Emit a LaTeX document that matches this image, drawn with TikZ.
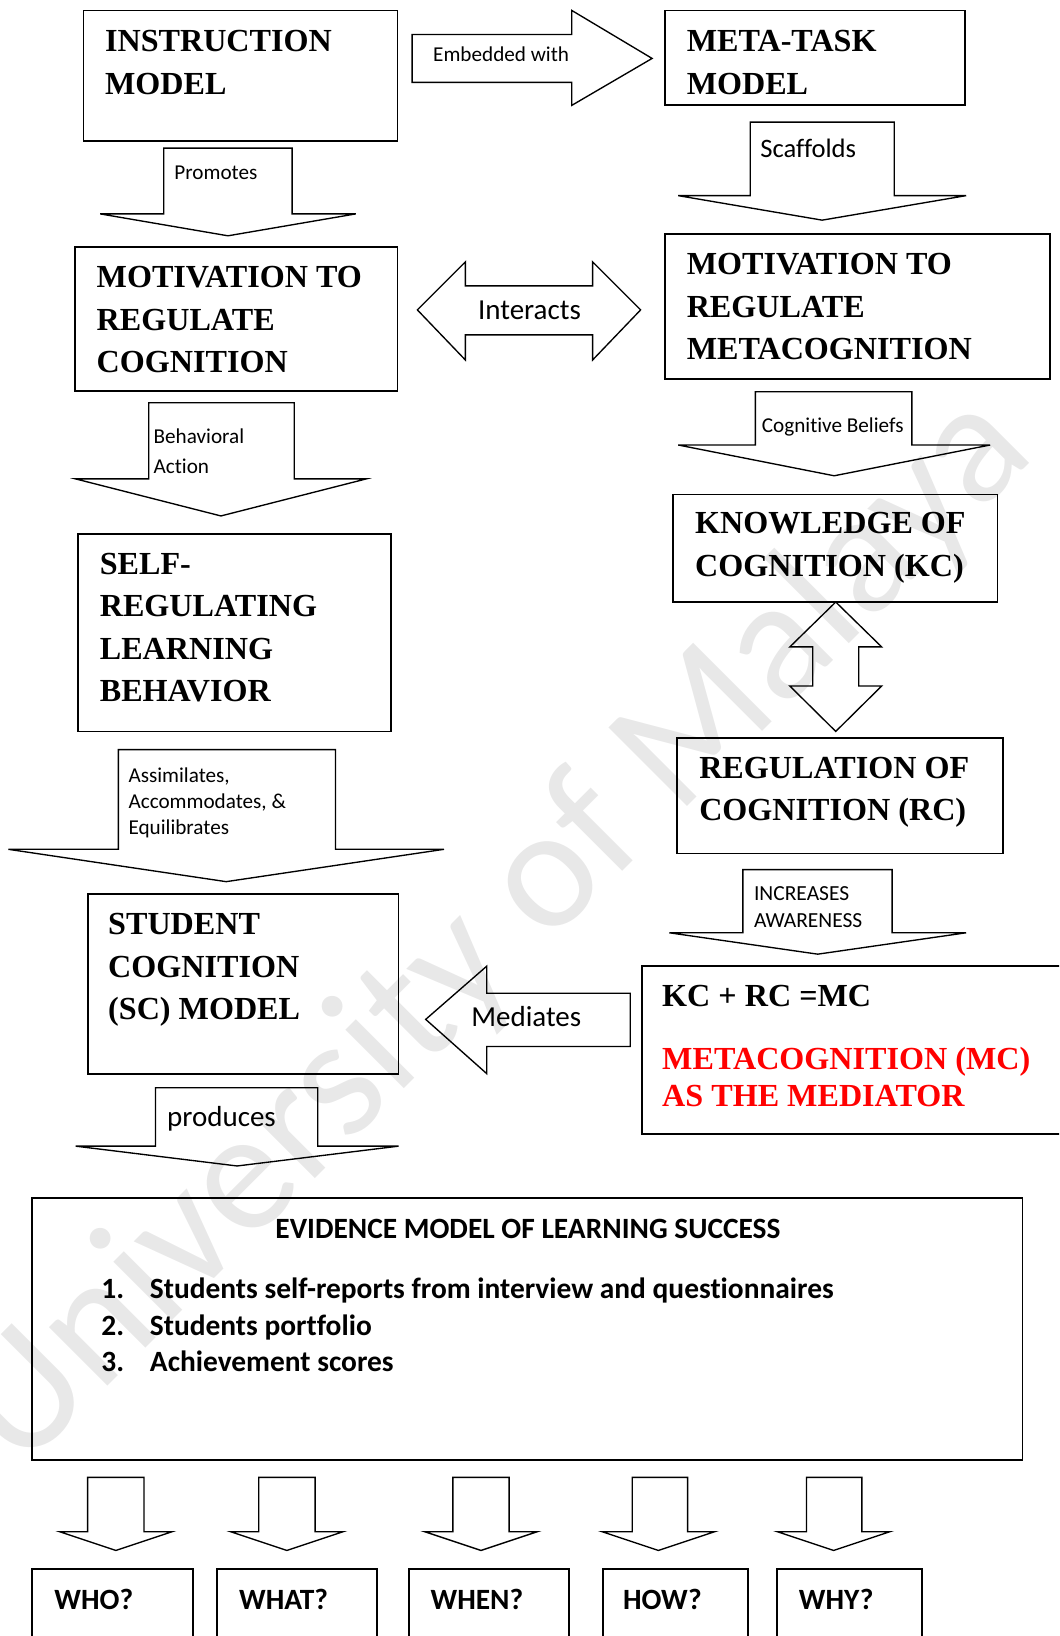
\documentclass[tikz,border=0pt]{standalone}
\usepackage{fontspec}
\setmainfont{Liberation Serif}
\newfontfamily\labelfont[Ligatures=NoCommon]{Carlito}
\definecolor{mcred}{RGB}{255,0,0}
\definecolor{wmgray}{RGB}{232,232,232}
% left-aligned stack of lines, baseline at the first line
\newcommand\stack[1]{\begin{tabular}[t]{@{}l@{}}#1\end{tabular}}
% framed panel: name, left, top, width, height
\newcommand\panel[5]{\node[box, minimum width=#4pt, minimum height=#5pt] (#1) at (#2,#3) {};}
% downward block arrow: shaft left, shaft right, top, head line, head left, head right, tip
\newcommand\downblock[7]{\draw[blockarrow] (#1,#3) -- (#2,#3) -- (#2,#4) -- (#6,#4) -- ({(#5+#6)/2},#7) -- (#5,#4) -- (#1,#4) -- cycle;}
\begin{document}
\begin{tikzpicture}[x=1pt,y=-1pt,
  box/.style={draw, line width=1.7pt, anchor=north west, inner sep=0pt, outer sep=0pt},
  blockarrow/.style={draw, line width=1.3pt, line join=miter},
  heading/.style={anchor=base west, inner sep=0pt, font=\bfseries\fontsize{30.8}{40.7}\selectfont},
  redheading/.style={heading, text=mcred, font=\bfseries\fontsize{30.8}{35.5}\selectfont},
  tag/.style={anchor=base west, inner sep=0pt, font=\labelfont\fontsize{20.3}{25}\selectfont},
  bigtag/.style={anchor=base west, inner sep=0pt, font=\labelfont\fontsize{27.8}{30}\selectfont},
  listtxt/.style={anchor=base west, inner sep=0pt, font=\labelfont\bfseries\fontsize{28.2}{35}\selectfont},
  watermark/.style={inner sep=0pt, text=wmgray, font=\labelfont\fontsize{166}{166}\selectfont}
]
\useasboundingbox (0,0) rectangle (1015,1568);
\clip (0,0) rectangle (1015,1568);

% background watermark
\node[watermark, rotate=45] (wm) at (476,893) {University of Malaya};

% panels
\panel{instr}{80}{10}{301}{125}
\panel{metatask}{637}{10}{288}{91}
\panel{motcog}{72}{237}{309}{138}
\panel{motmeta}{637}{224}{369}{139}
\panel{kc}{645}{474}{311}{103}
\panel{srl}{75}{512}{300}{189}
\panel{rc}{649}{707}{312}{111}
\panel{sc}{84}{857}{298}{172}
\panel{mc}{615}{926}{430}{161}
\panel{evidence}{31}{1148}{949}{251}
\panel{who}{31}{1504}{154}{100}
\panel{what}{208}{1504}{153}{100}
\panel{when}{392}{1504}{153}{100}
\panel{how}{578}{1504}{139}{100}
\panel{why}{745}{1504}{139}{100}

% panel texts
\node[heading] (instr-t) at (100.5,49.5) {\stack{INSTRUCTION\\MODEL}};
\node[heading] (metatask-t) at (658,49.5) {\stack{META-TASK\\MODEL}};
\node[heading] (motcog-t) at (92.5,276) {\stack{MOTIVATION TO\\REGULATE\\COGNITION}};
\node[heading] (motmeta-t) at (658,263.5) {\stack{MOTIVATION TO\\REGULATE\\METACOGNITION}};
\node[heading] (kc-t) at (666,511.5) {\stack{KNOWLEDGE OF\\COGNITION (KC)}};
\node[heading] (srl-t) at (95.5,550.5) {\stack{SELF-\\REGULATING\\LEARNING\\BEHAVIOR}};
\node[heading] (rc-t) at (670,746) {\stack{REGULATION OF\\COGNITION (RC)}};
\node[heading] (sc-t) at (103.5,896) {\stack{STUDENT\\COGNITION\\(SC) MODEL}};
\node[heading] (mc-t) at (634.5,965) {KC + RC =MC};
\node[redheading] (mc-red) at (634.5,1025) {\stack{METACOGNITION (MC)\\AS THE MEDIATOR}};

% block arrows between panels
\draw[blockarrow] (395,33) -- (548,33) -- (548,10) -- (625,56) -- (548,101) -- (548,79) -- (395,79) -- cycle;
\node[tag] (embedded) at (415,58.5) {Embedded with};

\downblock{157}{280}{142}{205}{96}{341}{226}
\node[tag] (promotes) at (167,172.5) {Promotes};

\downblock{719}{857}{117}{187.5}{650}{926}{211}
\node[tag, font=\labelfont\fontsize{25.5}{26}\selectfont] (scaffolds) at (728.5,150.5) {Scaffolds};

\draw[blockarrow] (400,297) -- (446,251) -- (446,274) -- (568,274) -- (568,251) -- (614,297) -- (568,345) -- (568,321) -- (446,321) -- (446,345) -- cycle;
\node[bigtag] (interacts) at (458,306.5) {Interacts};

\downblock{142.5}{282}{386}{459}{72.5}{351}{494.5}
\node[tag] (behavioral) at (147,425) {\stack{Behavioral\\[3.7pt]Action}};

\downblock{724}{874}{375.5}{426.5}{650}{949}{456}
\node[tag] (beliefs) at (730,414.5) {Cognitive Beliefs};

\draw[blockarrow] (801,577) -- (845,620) -- (823,620) -- (823,657.5) -- (845,657.5) -- (801,701) -- (757,657.5) -- (779,657.5) -- (779,620) -- (757,620) -- cycle;

\downblock{113.5}{321.5}{718.5}{814}{8}{425.5}{845}
\node[tag] (assimilates) at (123,749.5) {\stack{Assimilates,\\Accommodates, \&\\Equilibrates}};

\downblock{712}{855}{833.5}{894}{641.5}{926}{914.5}
\node[tag, font=\labelfont\fontsize{20.6}{25}\selectfont] (awareness) at (722.5,863.5) {\stack{INCREASES\\AWARENESS}};

\draw[blockarrow] (408,977) -- (466.5,926) -- (466.5,952) -- (604,952) -- (604,1003) -- (466.5,1003) -- (466.5,1029) -- cycle;
\node[bigtag] (mediates) at (451.5,983.5) {Mediates};

\downblock{149}{304.5}{1042.5}{1098.5}{72.5}{382}{1117.5}
\node[bigtag] (produces) at (160,1080) {produces};

% evidence panel content
\node[listtxt, anchor=base] (ev-title) at (506,1187) {EVIDENCE MODEL OF LEARNING SUCCESS};
\node[listtxt] (ev-num) at (97,1244.5) {\stack{1.\\2.\\3.}};
\node[listtxt] (ev-items) at (143.5,1244.5) {\stack{Students self-reports from interview and questionnaires\\Students portfolio\\Achievement scores}};

% question arrows and labels
\downblock{84}{138}{1416}{1468}{57}{165}{1486}
\downblock{248}{302}{1416}{1468}{221}{329}{1486}
\downblock{434}{488}{1416}{1468}{407}{515}{1486}
\downblock{606}{659}{1416}{1468}{577}{685}{1486}
\downblock{773}{826}{1416}{1468}{745}{853}{1486}
\node[listtxt] (who-t) at (52,1543) {WHO?};
\node[listtxt] (what-t) at (229,1543) {WHAT?};
\node[listtxt] (when-t) at (412.5,1543) {WHEN?};
\node[listtxt] (how-t) at (597,1543) {HOW?};
\node[listtxt] (why-t) at (765.5,1543) {WHY?};
\end{tikzpicture}
\end{document}
